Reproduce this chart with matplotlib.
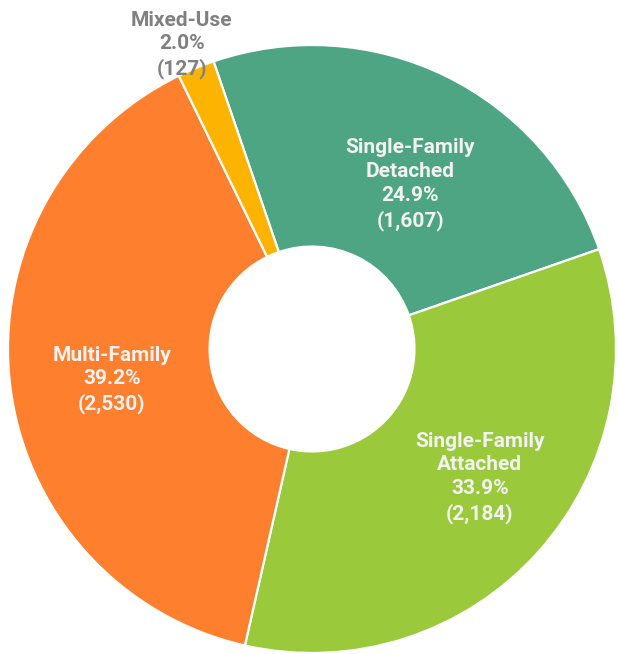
import matplotlib
matplotlib.use("Agg")
import matplotlib.pyplot as plt
import numpy as np

# ---- data ----
categories = ["Single-Family\nDetached", "Single-Family\nAttached", "Multi-Family", "Mixed-Use"]
counts = [1607, 2184, 2530, 127]
colors = ["#4ea584", "#9aca3c", "#fe7f2d", "#fdb401"]

plt.rcParams['font.family'] = ['Roboto', 'DejaVu Sans']

W, H = 618, 654
fig = plt.figure(figsize=(W / 100, H / 100), dpi=100)
# pie centre ~ (312, 349) px, outer radius ~304 px
cx, cy, R = 312, 349, 304
ax = fig.add_axes([(cx - R) / W, (H - cy - R) / H, 2 * R / W, 2 * R / H])
ax.set_xlim(-1, 1)
ax.set_ylim(-1, 1)
ax.set_aspect('equal')
ax.axis('off')

total = sum(counts)
start = 108.9
wedges, _ = ax.pie(counts, colors=colors, startangle=start, counterclock=False,
                   radius=1.0, center=(0, 0),
                   wedgeprops=dict(width=0.663, edgecolor='white', linewidth=1.6),
                   frame=False)
ax.set_xlim(-1, 1)
ax.set_ylim(-1, 1)

# label placement (angle in degrees, radius in pie units), per slice
label_pos = [(59.1, 0.630), (-37.5, 0.696), (188.8, 0.666), (113.2, 1.088)]
label_col = ["#f2f2f2", "#f2f2f2", "#f2f2f2", "#808080"]

for cat, n, (ang, r), col in zip(categories, counts, label_pos, label_col):
    pct = 100.0 * n / total
    txt = f"{cat}\n{pct:.1f}%\n({n:,})"
    x = r * np.cos(np.radians(ang))
    y = r * np.sin(np.radians(ang))
    ax.text(x, y, txt, ha='center', va='center', color=col, fontsize=15,
            fontweight='bold', linespacing=1.32, clip_on=False)

fig.savefig("out.png", dpi=100)
